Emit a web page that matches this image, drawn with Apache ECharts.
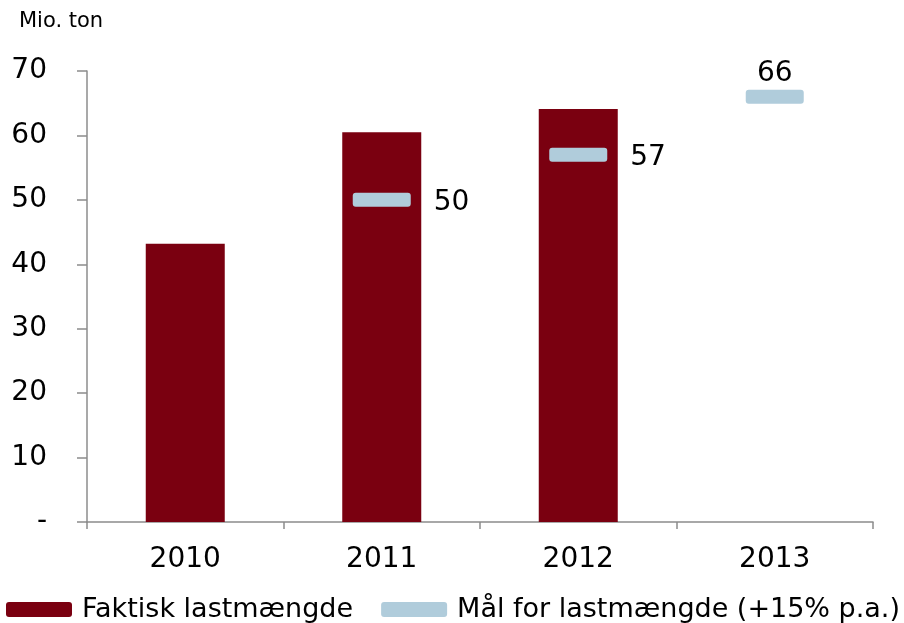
<!DOCTYPE html>
<html>
<head>
<meta charset="utf-8">
<script src="https://cdn.jsdelivr.net/npm/echarts@6/dist/echarts.min.js"></script>
<style>
  html, body { margin: 0; padding: 0; background: #fff; }
  #main { width: 904px; height: 623px; }
</style>
</head>
<body>
<div id="main"></div>
<script>
// data
var years = ['2010', '2011', '2012', '2013'];
var faktisk = [43.2, 60.5, 64.1, null];
var maal = [null, 50, 57, 66];
var yTicks = [0, 10, 20, 30, 40, 50, 60, 70];

var font = 'DejaVu Sans';
// small rounded bars for the target markers and the legend icons
var pill = 'path://M3,0 H55 A3,3 0 0 1 58,3 V11 A3,3 0 0 1 55,14 H3 A3,3 0 0 1 0,11 V3 A3,3 0 0 1 3,0 Z';
var legendPill = 'path://M3,0 H63 A3,3 0 0 1 66,3 V12 A3,3 0 0 1 63,15 H3 A3,3 0 0 1 0,12 V3 A3,3 0 0 1 3,0 Z';

var chart = echarts.init(document.getElementById('main'));

chart.setOption({
  animation: false,
  textStyle: { fontFamily: font },
  graphic: [{
    type: 'text', left: 19, top: 11,
    style: { text: 'Mio. ton', fontSize: 21, fontFamily: font, fill: '#000' }
  }],
  grid: { left: 87, right: 31, top: 71, bottom: 101 },
  legend: {
    left: 6, top: 596, width: 898,
    padding: 0,
    itemWidth: 66, itemHeight: 15, itemGap: 28,
    textStyle: { fontSize: 27, color: '#000', fontFamily: font, padding: [0, 0, 0, 5] },
    data: [
      { name: 'Faktisk lastmængde', icon: legendPill },
      { name: 'Mål for lastmængde (+15% p.a.)', icon: legendPill }
    ]
  },
  xAxis: {
    type: 'category',
    data: years,
    axisLine: { lineStyle: { color: '#8c8c8c', width: 1.5 } },
    axisTick: { show: true, length: 7, lineStyle: { color: '#8c8c8c', width: 1.5 } },
    axisLabel: { fontSize: 28, color: '#000', margin: 24, fontFamily: font }
  },
  yAxis: {
    type: 'value',
    min: 0, max: 70, interval: 10,
    splitLine: { show: false },
    axisLine: { show: true, lineStyle: { color: '#8c8c8c', width: 1.5 } },
    axisTick: { show: true, length: 10, lineStyle: { color: '#8c8c8c', width: 1.5 } },
    axisLabel: {
      fontSize: 28, color: '#000', margin: 40, fontFamily: font,
      formatter: function (v) { return v === yTicks[0] ? '-' : String(v); }
    }
  },
  series: [
    {
      name: 'Faktisk lastmængde',
      type: 'bar',
      data: faktisk,
      barWidth: 79,
      itemStyle: { color: '#7a0010' }
    },
    {
      name: 'Mål for lastmængde (+15% p.a.)',
      type: 'scatter',
      symbol: pill,
      symbolSize: [58, 14],
      itemStyle: { color: '#b0ccdb', opacity: 1 },
      z: 5,
      data: maal.map(function (v, i) {
        return {
          value: v,
          label: {
            show: v != null,
            position: i === 3 ? 'top' : 'right',
            distance: i === 3 ? 2 : 23,
            offset: i === 3 ? [0, 0] : [0, 3],
            fontSize: 28, color: '#000', fontFamily: font,
            formatter: '{c}'
          }
        };
      })
    }
  ]
});
</script>
</body>
</html>
